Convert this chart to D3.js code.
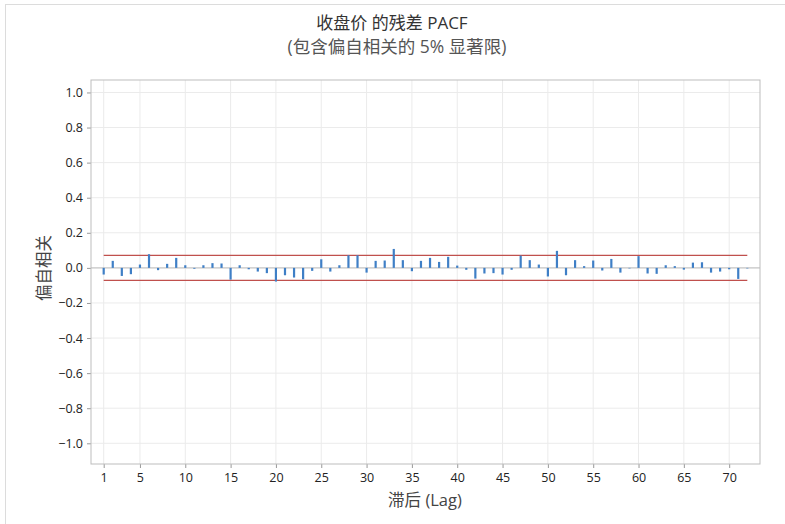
<!DOCTYPE html>
<html>
<head>
<meta charset="utf-8">
<script src="https://cdn.jsdelivr.net/npm/d3@7"></script>
<style>
  body { margin: 0; background: #fff; }
  text { font-family: "Open Sans", "Noto Sans CJK SC", sans-serif; }
</style>
</head>
<body>
<div id="graph"></div>
<script>
// données
var lags = d3.range(1, 73);
var pacf = [
  -0.038, 0.040, -0.046, -0.036, 0.019, 0.078, -0.013, 0.023, 0.057, 0.015,
  -0.005, 0.015, 0.027, 0.025, -0.067, 0.015, -0.008, -0.021, -0.030, -0.078,
  -0.042, -0.055, -0.065, -0.017, 0.049, -0.021, 0.015, 0.072, 0.072, -0.027,
  0.040, 0.042, 0.108, 0.044, -0.019, 0.040, 0.057, 0.034, 0.063, 0.013,
  -0.011, -0.061, -0.032, -0.030, -0.038, -0.011, 0.070, 0.044, 0.019, -0.049,
  0.097, -0.042, 0.044, 0.010, 0.042, -0.015, 0.051, -0.027, -0.003, 0.067,
  -0.032, -0.034, 0.015, 0.010, -0.010, 0.030, 0.032, -0.027, -0.021, -0.008,
  -0.063, -0.003
];
var limit = 0.071;
var xTicks = [1, 5, 10, 15, 20, 25, 30, 35, 40, 45, 50, 55, 60, 65, 70];
var yTicks = [-1.0, -0.8, -0.6, -0.4, -0.2, 0.0, 0.2, 0.4, 0.6, 0.8, 1.0];

var totalWidth = 785, totalHeight = 524,
    margin = {top: 80, right: 25, bottom: 60, left: 91},
    width = totalWidth - margin.left - margin.right,
    height = 464 - margin.top;

var x = d3.scaleLinear().domain([-0.4, 73.4]).range([0, width]),
    y = d3.scaleLinear().domain([-1.118, 1.071]).range([height, 0]);

var root = d3.select("#graph").append("svg")
    .attr("width", totalWidth)
    .attr("height", totalHeight);

// cadre extérieur
root.append("rect")
    .attr("x", 5.5).attr("y", 4.5)
    .attr("width", 800).attr("height", 600)
    .attr("fill", "none").attr("stroke", "#dcdcdc");

// titres
root.append("text")
    .attr("x", 392).attr("y", 29)
    .attr("text-anchor", "middle")
    .attr("font-size", 17).attr("fill", "#333")
    .text("收盘价 的残差 PACF");
root.append("text")
    .attr("x", 397).attr("y", 53)
    .attr("text-anchor", "middle")
    .attr("font-size", 17.5).attr("fill", "#555")
    .text("(包含偏自相关的 5% 显著限)");

var svg = root.append("g")
    .attr("transform", "translate(" + margin.left + "," + margin.top + ")");

// grille
svg.selectAll(".gx").data(xTicks).enter().append("line")
    .attr("x1", d => x(d)).attr("x2", d => x(d))
    .attr("y1", 0).attr("y2", height)
    .attr("stroke", "#ebebeb");
svg.selectAll(".gy").data(yTicks).enter().append("line")
    .attr("x1", 0).attr("x2", width)
    .attr("y1", d => y(d)).attr("y2", d => y(d))
    .attr("stroke", "#ebebeb");

// ligne de référence à 0
svg.append("line")
    .attr("x1", 0).attr("x2", width)
    .attr("y1", y(0)).attr("y2", y(0))
    .attr("stroke", "#c8c8c8").attr("stroke-width", 1.2);

// limites de signification
[limit, -limit].forEach(function(v) {
    svg.append("line")
        .attr("x1", x(lags[0])).attr("x2", x(lags[lags.length - 1]))
        .attr("y1", y(v)).attr("y2", y(v))
        .attr("stroke", "#c0504d").attr("stroke-width", 1.2);
});

// barres
svg.selectAll(".bar").data(pacf).enter().append("line")
    .attr("x1", (d, i) => x(lags[i])).attr("x2", (d, i) => x(lags[i]))
    .attr("y1", y(0)).attr("y2", d => y(d))
    .attr("stroke", "#3f7fc6").attr("stroke-width", 2.2);

// axes
var ax = svg.append("g")
    .attr("transform", "translate(0," + height + ")")
    .call(d3.axisBottom(x).tickValues(xTicks).tickSize(4).tickPadding(5).tickFormat(d3.format("d")));
var ay = svg.append("g")
    .call(d3.axisLeft(y).tickValues(yTicks).tickSize(4).tickPadding(4).tickFormat(d3.format(".1f")));
[ax, ay].forEach(function(a) {
    a.select(".domain").remove();
    a.selectAll("line").attr("stroke", "#999");
    a.selectAll("text").attr("font-size", 12.5).attr("fill", "#222")
        .style("font-family", "'Open Sans', sans-serif");
});

// cadre du graphique
svg.append("rect")
    .attr("width", width).attr("height", height)
    .attr("fill", "none").attr("stroke", "#bdbdbd");

// titres des axes
root.append("text")
    .attr("x", 425).attr("y", 506)
    .attr("text-anchor", "middle")
    .attr("font-size", 16.5).attr("fill", "#444")
    .text("滞后 (Lag)");
root.append("text")
    .attr("transform", "translate(50,268) rotate(-90)")
    .attr("text-anchor", "middle")
    .attr("font-size", 16.5).attr("fill", "#444")
    .text("偏自相关");
</script>
</body>
</html>
